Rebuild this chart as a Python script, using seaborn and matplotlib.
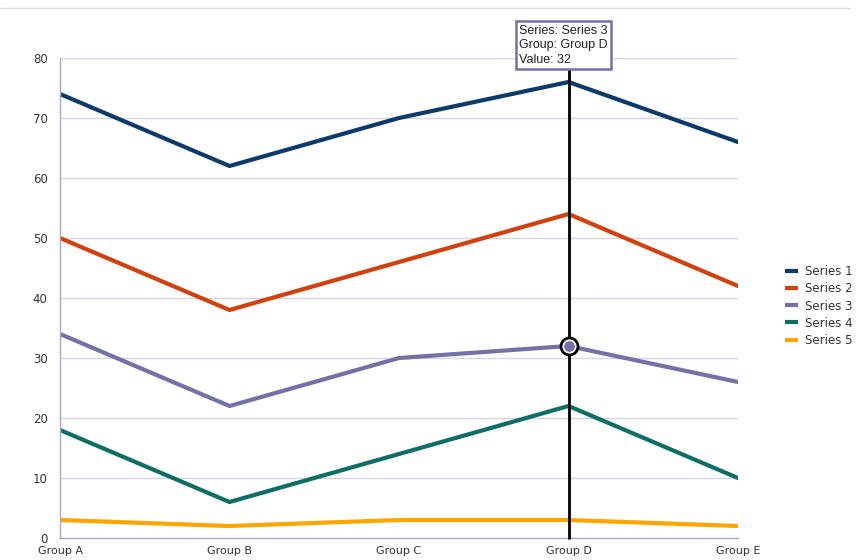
import pandas as pd
import numpy as np
import matplotlib
matplotlib.use('Agg')
import matplotlib.pyplot as plt
import seaborn as sns

sns.set_style('white')
plt.rcParams['font.family'] = ['DejaVu Sans']

groups = ['Group A', 'Group B', 'Group C', 'Group D', 'Group E']
series_names = ['Series 1', 'Series 2', 'Series 3', 'Series 4', 'Series 5']
series_1 = [74, 62, 70, 76, 66]
series_2 = [50, 38, 46, 54, 42]
series_3 = [34, 22, 30, 32, 26]
series_4 = [18, 6, 14, 22, 10]
series_5 = [3, 2, 3, 3, 2]
colors = ['#0b3a6b', '#d2400c', '#7470a8', '#0d6e66', '#ffa500']

rows = []
for name, vals in zip(series_names, [series_1, series_2, series_3, series_4, series_5]):
    for g, v in zip(groups, vals):
        rows.append({'Group': g, 'Series': name, 'Value': v})
df = pd.DataFrame(rows)
df['x'] = df['Group'].map({g: i for i, g in enumerate(groups)})

fig = plt.figure(figsize=(8.61, 5.6), dpi=100)
ax = fig.add_axes([60 / 861, 1 - 538 / 560, 678 / 861, 480 / 560])

sns.lineplot(data=df, x='x', y='Value', hue='Series', palette=colors,
             linewidth=3, ax=ax, legend=True)

ax.set_xlim(0, 4)
ax.set_ylim(0, 80)
ax.set_yticks(range(0, 81, 10))
ax.set_xticks(range(5))
ax.set_xticklabels(groups)
ax.set_xlabel('')
ax.set_ylabel('')
ax.yaxis.grid(True, color='#d6d6e6', linewidth=1)
ax.xaxis.grid(False)
for side in ['top', 'right']:
    ax.spines[side].set_visible(False)
for side in ['left', 'bottom']:
    ax.spines[side].set_color('#a8a8c8')
    ax.spines[side].set_linewidth(1)
ax.tick_params(axis='both', length=0, labelsize=8.5, colors='#333333')
ax.tick_params(axis='y', pad=9)
ax.tick_params(axis='x', pad=6, labelsize=8)

# hover crosshair at Group D
dx = groups.index('Group D')
ax.plot([dx, dx], [0, 78], color='black', linewidth=2, clip_on=False, zorder=5)
ax.scatter([dx], [series_3[dx]], s=150, facecolor='white', edgecolor='black',
           linewidth=2, zorder=6)
ax.scatter([dx], [series_3[dx]], s=45, color=colors[2], zorder=7)

# tooltip
fig.text(519 / 861, 1 - 66 / 560, 'Series: Series 3\nGroup: Group D\nValue: 32',
         fontsize=9, ha='left', va='bottom', linespacing=1.3, color='#222222',
         family=['Liberation Sans', 'DejaVu Sans'],
         bbox=dict(boxstyle='square,pad=0.25', facecolor='white',
                   edgecolor='#7470a8', linewidth=1.8))

# top separator line
fig.add_artist(plt.Line2D([0, 850 / 861], [1 - 8 / 560, 1 - 8 / 560],
                          color='#d8d8e0', linewidth=1))

leg = ax.legend(loc='center left', bbox_to_anchor=(780 / 861, 1 - 306 / 560),
                bbox_transform=fig.transFigure, frameon=False, fontsize=8.5,
                handlelength=1.1, handletextpad=0.6, labelspacing=0.35,
                borderaxespad=0)
for line in leg.get_lines():
    line.set_linewidth(3)
    line.set_solid_capstyle('butt')
for t in leg.get_texts():
    t.set_color('#333333')

fig.savefig('out.png', dpi=100)
